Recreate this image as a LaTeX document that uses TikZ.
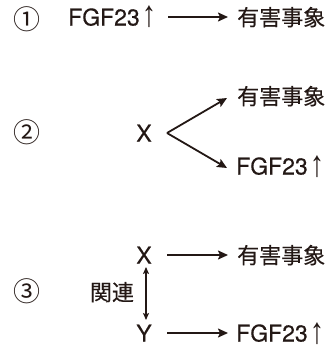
\documentclass[tikz,border=0pt]{standalone}
\usepackage{fontspec}
\setmainfont{TeX Gyre Heros}
\newfontfamily\jp{Noto Sans CJK JP}
\newfontfamily\lib{Liberation Sans}
\usetikzlibrary{arrows.meta}
\definecolor{ink}{RGB}{35,24,21}
\begin{document}
\begin{tikzpicture}[x=1pt,y=-1pt,
  lat/.style={inner sep=0pt, font=\fontsize{23}{24}\selectfont\addfontfeature{FakeBold=0.3}, text height=17pt, text depth=0pt, text=ink},
  cjk/.style={inner sep=0pt, font=\jp\fontsize{22}{24}\selectfont\addfontfeature{FakeBold=0.3}, text height=19pt, text depth=2pt, text=ink},
  num/.style={inner sep=0pt, font=\jp\fontsize{27}{28}\selectfont, text=ink},
  arr/.style={line width=1.8pt, draw=ink, -{Stealth[length=10pt,width=9pt,inset=2pt]}},
  darr/.style={line width=1.2pt, draw=ink, {Stealth[length=7pt,width=6pt,inset=1.5pt]}-{Stealth[length=7pt,width=6pt,inset=1.5pt]}}]
\useasboundingbox (0,0) rectangle (328,348);
\newcommand{\fgfup}{FGF23\kern2pt\raisebox{-1.5pt}[17pt][0pt]{\scalebox{1.25}[1.6]{\lib ↑}}}
% row 1
\node[num] (n1) at (27,19) {①};
\node[lat, anchor=west] (f1) at (68,17) {\fgfup};
\node[cjk, anchor=west] (e1) at (237,17) {有害事象};
\draw[arr] (168,17) -- (228,17);
% row 2
\node[num] (n2) at (27,132) {②};
\node[lat] (x2) at (144,133) {X};
\node[cjk, anchor=west] (e2) at (237,96) {有害事象};
\node[lat, anchor=west] (f2) at (236,166) {\fgfup};
\coordinate (v2) at (167,133);
\draw[arr] (v2) -- (227,98);
\draw[arr] (v2) -- (227,168);
% row 3
\node[num] (n3) at (27,291) {③};
\node[lat] (x3) at (144,255) {X};
\node[lat] (y3) at (144,333) {Y};
\node[cjk] (r3) at (112,292) {関連};
\node[cjk, anchor=west] (e3) at (237,255) {有害事象};
\node[lat, anchor=west] (f3) at (236,333) {\fgfup};
\draw[arr] (167,255) -- (228,255);
\draw[arr] (167,333) -- (228,333);
\coordinate (d1) at (146,267);
\coordinate (d2) at (146,320);
\draw[darr] (d1) -- (d2);
\end{tikzpicture}
\end{document}
